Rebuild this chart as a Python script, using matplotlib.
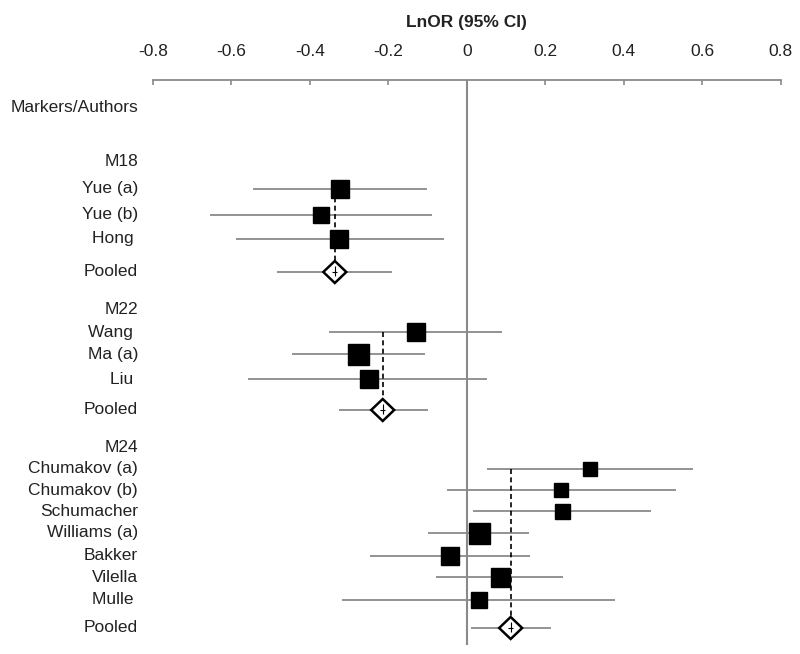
import matplotlib
matplotlib.use("Agg")
import matplotlib.pyplot as plt
from matplotlib.patches import Polygon
from matplotlib.transforms import blended_transform_factory

plt.rcParams['font.family'] = ['Liberation Sans', 'DejaVu Sans']

# x axis ticks
tick_values = [-0.8, -0.6, -0.4, -0.2, 0, 0.2, 0.4, 0.6, 0.8]
tick_labels = ["-0.8", "-0.6", "-0.4", "-0.2", "0", "0.2", "0.4", "0.6", "0.8"]

# marker groups
groups = ["M18", "M22", "M24"]

# M18
m18_authors = ["Yue (a)", "Yue (b)", "Hong "]
m18_lnor = [-0.324, -0.372, -0.326]
m18_lo = [-0.545, -0.655, -0.589]
m18_hi = [-0.102, -0.089, -0.059]
m18_weight = [18, 16, 18]
m18_pooled = [-0.336, -0.484, -0.191]   # estimate, low, high

# M22
m22_authors = ["Wang ", "Ma (a)", "Liu "]
m22_lnor = [-0.130, -0.278, -0.250]
m22_lo = [-0.352, -0.446, -0.558]
m22_hi = [0.089, -0.107, 0.051]
m22_weight = [18, 21, 18]
m22_pooled = [-0.214, -0.326, -0.099]

# M24
m24_authors = ["Chumakov (a)", "Chumakov (b)", "Schumacher", "Williams (a)",
               "Bakker", "Vilella", "Mulle "]
m24_lnor = [0.313, 0.240, 0.242, 0.031, -0.043, 0.084, 0.031]
m24_lo = [0.051, -0.051, 0.015, -0.099, -0.247, -0.079, -0.318]
m24_hi = [0.576, 0.532, 0.469, 0.158, 0.161, 0.245, 0.377]
m24_weight = [14, 14, 15, 21, 18, 19, 16]
m24_pooled = [0.112, 0.010, 0.214]

# row layout (pixels from the top of the picture): header, studies..., pooled
m18_rows = [161, 189, 215, 239, 272]
m22_rows = [309, 332, 354, 379, 410]
m24_rows = [448, 469, 490, 511, 533, 556, 577, 600, 628]

grey = "#8a8a8a"
txt = "#222222"
fs = 12.5

fig = plt.figure(figsize=(8, 6.54), dpi=100)
ax = fig.add_axes([152.7 / 800, 0, 628 / 800, (654 - 80) / 654])
ax.set_xlim(-0.8, 0.8)
ax.set_ylim(654, 80)

for s in ["left", "right", "bottom"]:
    ax.spines[s].set_visible(False)
ax.spines["top"].set_color(grey)
ax.spines["top"].set_linewidth(1.3)
ax.xaxis.tick_top()
ax.set_xticks(tick_values)
ax.set_xticklabels(tick_labels)
ax.tick_params(axis="x", direction="in", length=3.8, width=1.2, color=grey,
               pad=15, labelsize=fs, labelcolor=txt)
ax.set_yticks([])

# zero line
ax.vlines(0, 80, 645, color=grey, lw=1.5, zorder=1)

lab = blended_transform_factory(fig.transFigure, ax.transData)
ax.text(138 / 800, 108, "Markers/Authors", transform=lab, ha="right",
        va="center", fontsize=fs, color=txt)

data = [
    (m18_authors, m18_lnor, m18_lo, m18_hi, m18_weight, m18_pooled, m18_rows),
    (m22_authors, m22_lnor, m22_lo, m22_hi, m22_weight, m22_pooled, m22_rows),
    (m24_authors, m24_lnor, m24_lo, m24_hi, m24_weight, m24_pooled, m24_rows),
]

for g, (authors, lnor, lo, hi, w, pooled, rows) in zip(groups, data):
    ax.text(138 / 800, rows[0], g, transform=lab, ha="right", va="center",
            fontsize=fs, color=txt)
    ys = rows[1:-1]
    for name, x, l, h, size, y in zip(authors, lnor, lo, hi, w, ys):
        ax.text(138 / 800, y, name, transform=lab, ha="right", va="center",
                fontsize=fs, color=txt)
        ax.hlines(y, l, h, color=grey, lw=1.3, zorder=2)
        ax.plot(x, y, marker="s", ms=size * 0.72, color="black", mec="black",
                zorder=4)

    est, plo, phi = pooled
    py = rows[-1]
    ax.text(138 / 800, py, "Pooled", transform=lab, ha="right", va="center",
            fontsize=fs, color=txt)
    ax.vlines(est, ys[0], py - 11, color="black", lw=1.2,
              linestyles=(0, (3, 2)), zorder=3)
    ax.hlines(py, plo, phi, color=grey, lw=1.3, zorder=2)
    dx = 11.5 / 392.5
    diamond = Polygon([(est - dx, py), (est, py - 11), (est + dx, py),
                       (est, py + 11)], closed=True, facecolor="white",
                      edgecolor="black", lw=1.8, zorder=5)
    ax.add_patch(diamond)
    ax.vlines(est, py - 6, py + 4, color="black", lw=0.8, zorder=6)
    ax.hlines(py, est - 2.5 / 392.5, est + 2.5 / 392.5, color="black",
              lw=0.8, zorder=6)

fig.text(466 / 800, 1 - 23 / 654, "LnOR (95% CI)", ha="center", va="center",
         fontsize=fs, fontweight="bold", color=txt)

fig.savefig("out.png", dpi=100)
